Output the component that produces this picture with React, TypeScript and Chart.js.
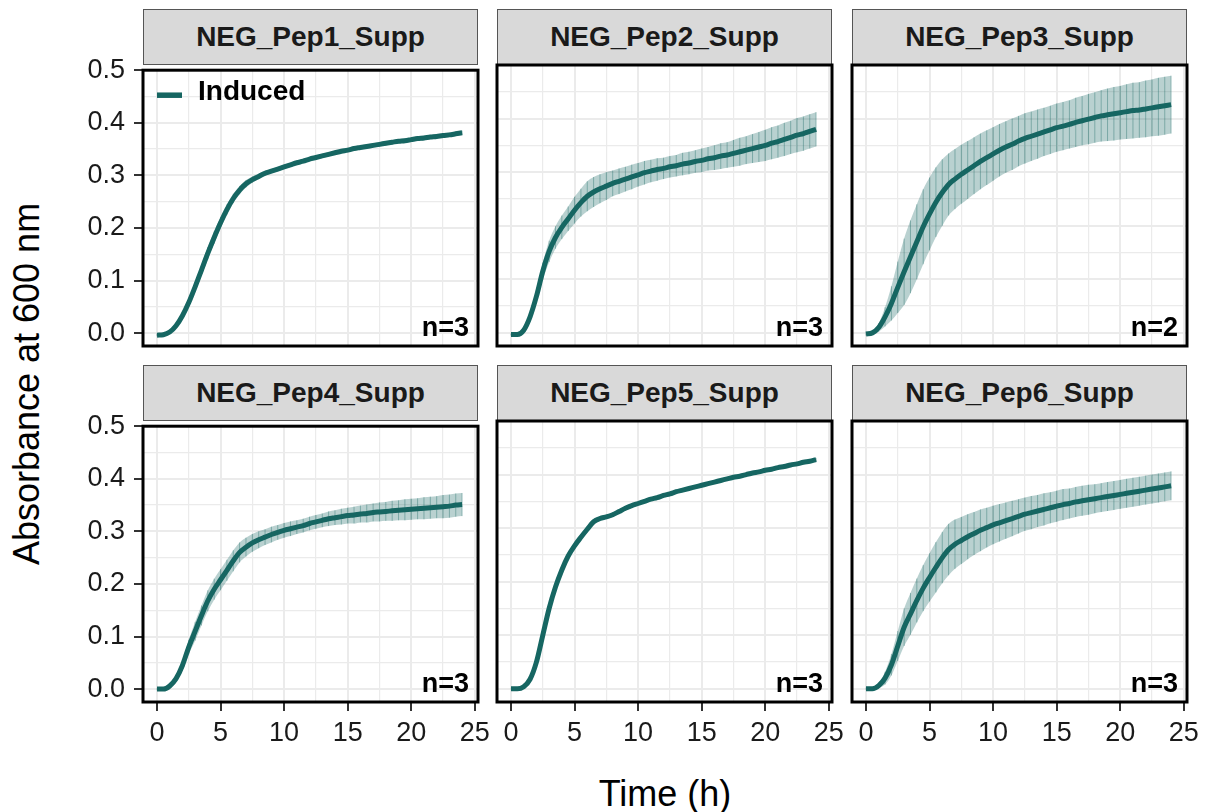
import React, { useEffect, useRef } from "react";
import { Chart, registerables } from "chart.js";

Chart.register(...registerables);
Chart.defaults.font.family = '"Liberation Sans", Arial, Helvetica, sans-serif';

// ---------------- DATA ----------------
const TIMES = [
  0, 0.5, 1, 1.5, 2, 2.5, 3, 3.5, 4, 4.5, 5, 5.5, 6, 6.5, 7, 7.5, 8, 8.5, 9, 9.5,
  10, 10.5, 11, 11.5, 12, 12.5, 13, 13.5, 14, 14.5, 15, 15.5, 16, 16.5, 17, 17.5,
  18, 18.5, 19, 19.5, 20, 20.5, 21, 21.5, 22, 22.5, 23, 23.5, 24,
];

const PANEL_TITLES = [
  "NEG_Pep1_Supp", "NEG_Pep2_Supp", "NEG_Pep3_Supp",
  "NEG_Pep4_Supp", "NEG_Pep5_Supp", "NEG_Pep6_Supp",
];
const PANEL_N = ["n=3", "n=3", "n=2", "n=3", "n=3", "n=3"];
const SERIES_LABEL = "Induced";
const X_TITLE = "Time (h)";
const Y_TITLE = "Absorbance at 600 nm";

const X_MAJOR = [0, 5, 10, 15, 20, 25];
const X_MINOR = [2.5, 7.5, 12.5, 17.5, 22.5];
const Y_MAJOR = [0, 0.1, 0.2, 0.3, 0.4, 0.5];
const Y_MINOR = [0.05, 0.15, 0.25, 0.35, 0.45];

const PEP1_MEAN = [
  -0.004, -0.003, 0.002, 0.014, 0.033, 0.058, 0.088, 0.12, 0.152, 0.182,
  0.21, 0.235, 0.256, 0.272, 0.284, 0.292, 0.298, 0.304, 0.308, 0.312,
  0.316, 0.32, 0.324, 0.327, 0.331, 0.334, 0.337, 0.34, 0.343, 0.346,
  0.348, 0.351, 0.353, 0.355, 0.357, 0.359, 0.361, 0.363, 0.365, 0.366,
  0.368, 0.37, 0.371, 0.373, 0.374, 0.376, 0.377, 0.379, 0.381,
];
const PEP1_SD = [
  0.002, 0.002, 0.002, 0.003, 0.005, 0.007, 0.009, 0.011, 0.012, 0.012,
  0.011, 0.01, 0.009, 0.008, 0.007, 0.006, 0.005, 0.005, 0.004, 0.004,
  0.004, 0.004, 0.004, 0.004, 0.004, 0.004, 0.004, 0.004, 0.004, 0.004,
  0.004, 0.004, 0.004, 0.004, 0.004, 0.004, 0.004, 0.004, 0.004, 0.004,
  0.004, 0.004, 0.004, 0.004, 0.004, 0.004, 0.004, 0.004, 0.004,
];

const PEP2_MEAN = [
  -0.003, -0.003, 0.005, 0.03, 0.068, 0.115, 0.152, 0.178, 0.197, 0.213,
  0.229, 0.243, 0.255, 0.263, 0.269, 0.274, 0.279, 0.283, 0.287, 0.291,
  0.295, 0.299, 0.302, 0.305, 0.307, 0.31, 0.312, 0.315, 0.317, 0.32,
  0.322, 0.325, 0.327, 0.33, 0.332, 0.335, 0.338, 0.341, 0.344, 0.347,
  0.35, 0.354, 0.357, 0.361, 0.365, 0.369, 0.372, 0.376, 0.38,
];
const PEP2_SD = [
  0.002, 0.003, 0.004, 0.007, 0.012, 0.016, 0.02, 0.021, 0.022, 0.023,
  0.025, 0.026, 0.028, 0.028, 0.027, 0.026, 0.024, 0.024, 0.023, 0.023,
  0.022, 0.022, 0.021, 0.021, 0.02, 0.02, 0.02, 0.021, 0.021, 0.021,
  0.022, 0.022, 0.023, 0.024, 0.024, 0.025, 0.026, 0.026, 0.027, 0.028,
  0.029, 0.03, 0.03, 0.031, 0.031, 0.032, 0.032, 0.032, 0.032,
];

const PEP3_MEAN = [
  -0.002, 0.0, 0.01, 0.03, 0.055, 0.085, 0.114, 0.142, 0.17, 0.198,
  0.222, 0.244, 0.262, 0.277, 0.287, 0.296, 0.304, 0.312, 0.32, 0.327,
  0.334, 0.341, 0.347, 0.352, 0.358, 0.363, 0.367, 0.371, 0.375, 0.379,
  0.383, 0.386, 0.389, 0.393, 0.396, 0.399, 0.402, 0.405, 0.407, 0.409,
  0.411, 0.413, 0.415, 0.416, 0.418, 0.42, 0.422, 0.424, 0.426,
];
const PEP3_SD = [
  0.003, 0.004, 0.008, 0.018, 0.032, 0.048, 0.062, 0.068, 0.07, 0.07,
  0.068, 0.065, 0.062, 0.058, 0.056, 0.055, 0.054, 0.053, 0.052, 0.051,
  0.05, 0.049, 0.048, 0.048, 0.047, 0.047, 0.046, 0.046, 0.045, 0.045,
  0.045, 0.045, 0.045, 0.046, 0.046, 0.047, 0.047, 0.048, 0.049, 0.05,
  0.05, 0.051, 0.052, 0.052, 0.053, 0.053, 0.054, 0.054, 0.054,
];

const PEP4_MEAN = [
  0.0, 0.0, 0.006, 0.02, 0.045, 0.08, 0.11, 0.14, 0.168, 0.19,
  0.208, 0.226, 0.244, 0.26, 0.27, 0.278, 0.284, 0.289, 0.294, 0.298,
  0.302, 0.305, 0.308, 0.311, 0.315, 0.318, 0.321, 0.324, 0.326, 0.328,
  0.33, 0.331, 0.333, 0.334, 0.336, 0.337, 0.338, 0.339, 0.34, 0.341,
  0.342, 0.343, 0.344, 0.345, 0.346, 0.347, 0.348, 0.35, 0.351,
];
const PEP4_SD = [
  0.002, 0.002, 0.003, 0.006, 0.01, 0.014, 0.018, 0.019, 0.02, 0.02,
  0.02, 0.02, 0.02, 0.019, 0.018, 0.017, 0.016, 0.015, 0.015, 0.014,
  0.014, 0.014, 0.013, 0.013, 0.013, 0.013, 0.013, 0.014, 0.014, 0.015,
  0.015, 0.016, 0.016, 0.017, 0.017, 0.018, 0.018, 0.019, 0.019, 0.02,
  0.02, 0.02, 0.021, 0.021, 0.021, 0.022, 0.022, 0.022, 0.022,
];

const PEP5_MEAN = [
  0.0, 0.0, 0.004, 0.018, 0.05, 0.1, 0.15, 0.19, 0.222, 0.248,
  0.267, 0.283, 0.298, 0.312, 0.318, 0.321, 0.325, 0.331, 0.337, 0.342,
  0.346, 0.35, 0.354, 0.357, 0.361, 0.364, 0.368, 0.371, 0.374, 0.377,
  0.38, 0.383, 0.386, 0.389, 0.392, 0.395, 0.397, 0.4, 0.403, 0.405,
  0.408, 0.41, 0.413, 0.415, 0.418, 0.42, 0.423, 0.425, 0.428,
];
const PEP5_SD = [
  0.001, 0.001, 0.002, 0.003, 0.004, 0.005, 0.005, 0.005, 0.005, 0.004,
  0.004, 0.004, 0.004, 0.004, 0.004, 0.004, 0.004, 0.004, 0.004, 0.004,
  0.003, 0.003, 0.003, 0.003, 0.003, 0.003, 0.003, 0.003, 0.003, 0.003,
  0.003, 0.003, 0.003, 0.003, 0.003, 0.003, 0.003, 0.003, 0.003, 0.003,
  0.003, 0.003, 0.003, 0.003, 0.003, 0.003, 0.003, 0.003, 0.003,
];

const PEP6_MEAN = [
  0.0, 0.0, 0.006, 0.02, 0.045, 0.08, 0.115, 0.14, 0.165, 0.188,
  0.208, 0.227, 0.245, 0.26, 0.27, 0.277, 0.284, 0.29, 0.296, 0.301,
  0.306, 0.31, 0.314, 0.318, 0.322, 0.326, 0.329, 0.332, 0.335, 0.338,
  0.341, 0.344, 0.346, 0.349, 0.351, 0.353, 0.355, 0.357, 0.359, 0.361,
  0.363, 0.365, 0.367, 0.369, 0.371, 0.373, 0.375, 0.377, 0.379,
];
const PEP6_SD = [
  0.002, 0.003, 0.005, 0.012, 0.02, 0.028, 0.035, 0.039, 0.041, 0.043,
  0.045, 0.047, 0.048, 0.048, 0.046, 0.044, 0.042, 0.04, 0.039, 0.037,
  0.036, 0.035, 0.034, 0.033, 0.032, 0.031, 0.031, 0.03, 0.03, 0.029,
  0.029, 0.029, 0.028, 0.028, 0.028, 0.028, 0.027, 0.027, 0.027, 0.027,
  0.027, 0.027, 0.027, 0.027, 0.027, 0.027, 0.027, 0.027, 0.027,
];

const MEANS = [PEP1_MEAN, PEP2_MEAN, PEP3_MEAN, PEP4_MEAN, PEP5_MEAN, PEP6_MEAN];
const SDS = [PEP1_SD, PEP2_SD, PEP3_SD, PEP4_SD, PEP5_SD, PEP6_SD];

// ---------------- STYLE / LAYOUT ----------------
const LINE_COLOR = "#166662";
const BAND_COLOR = "rgba(22,102,98,0.30)";
const ERR_COLOR = "rgba(22,102,98,0.38)";
const GRID_COLOR = "#EBEBEB";
const TEXT_COLOR = "#1A1A1A";

const COL_LEFT = [143, 497, 852];
const ROW_TOP = [65, 421];
const PANEL_W = 335;
const PANEL_H = 281;
const STRIP_H = 56;
const PAD_L = 70;
const PAD_T = 20;
const PAD_R = 24;
const PAD_B = 60;

const X_MIN = -1.1;
const X_MAX = 25.25;
const Y_MIN = -0.0245;
const Y_MAX = 0.5;

const isIn = (arr: number[], v: number) => arr.some((a) => Math.abs(a - v) < 1e-9);

export default function App() {
  const refs = useRef<(HTMLCanvasElement | null)[]>([]);

  useEffect(() => {
    const charts: Chart[] = [];
    for (let i = 0; i < 6; i++) {
      const canvas = refs.current[i];
      if (!canvas) continue;
      const r = Math.floor(i / 3);
      const c = i % 3;
      const showY = c === 0;
      const showX = r === 1;
      const mean = MEANS[i];
      const sd = SDS[i];
      const meanPts = TIMES.map((t, k) => ({ x: t, y: mean[k] }));
      const upPts = TIMES.map((t, k) => ({ x: t, y: mean[k] + sd[k] }));
      const loPts = TIMES.map((t, k) => ({ x: t, y: mean[k] - sd[k] }));

      const decor = {
        id: "decor" + i,
        beforeDatasetDraw(chart: any, args: any) {
          if (args.index !== 0) return;
          const { ctx, chartArea } = chart;
          const xs = chart.scales.x;
          const ys = chart.scales.y;
          ctx.save();
          ctx.beginPath();
          ctx.rect(chartArea.left, chartArea.top, chartArea.right - chartArea.left, chartArea.bottom - chartArea.top);
          ctx.clip();
          ctx.strokeStyle = ERR_COLOR;
          ctx.lineWidth = 1;
          ctx.beginPath();
          for (let k = 0; k < TIMES.length; k++) {
            const x = xs.getPixelForValue(TIMES[k]);
            ctx.moveTo(x, ys.getPixelForValue(mean[k] - sd[k]));
            ctx.lineTo(x, ys.getPixelForValue(mean[k] + sd[k]));
          }
          ctx.stroke();
          ctx.restore();
        },
        afterDraw(chart: any) {
          const { ctx, chartArea } = chart;
          const { left, top, right, bottom } = chartArea;
          ctx.save();
          ctx.strokeStyle = "#000";
          ctx.lineWidth = 3;
          ctx.strokeRect(left, top, right - left, bottom - top);
          ctx.fillStyle = "#000";
          ctx.font = 'bold 27px "Liberation Sans", Arial, sans-serif';
          ctx.textAlign = "right";
          ctx.textBaseline = "alphabetic";
          ctx.fillText(PANEL_N[i], right - 9, bottom - 10);
          if (i === 0) {
            ctx.strokeStyle = LINE_COLOR;
            ctx.lineWidth = 5.5;
            ctx.beginPath();
            ctx.moveTo(left + 14, top + 25);
            ctx.lineTo(left + 39, top + 25);
            ctx.stroke();
            ctx.fillStyle = "#000";
            ctx.textAlign = "left";
            ctx.font = 'bold 28px "Liberation Sans", Arial, sans-serif';
            ctx.fillText(SERIES_LABEL, left + 55, top + 30);
          }
          ctx.restore();
        },
      };

      const chart = new Chart(canvas, {
        type: "line",
        data: {
          datasets: [
            {
              label: SERIES_LABEL,
              data: meanPts,
              borderColor: LINE_COLOR,
              borderWidth: 5,
              pointRadius: 0,
              cubicInterpolationMode: "monotone",
              fill: false,
            },
            {
              label: "upper",
              data: upPts,
              borderWidth: 0,
              borderColor: "rgba(0,0,0,0)",
              backgroundColor: BAND_COLOR,
              pointRadius: 0,
              cubicInterpolationMode: "monotone",
              fill: "+1",
            },
            {
              label: "lower",
              data: loPts,
              borderWidth: 0,
              borderColor: "rgba(0,0,0,0)",
              pointRadius: 0,
              cubicInterpolationMode: "monotone",
              fill: false,
            },
          ],
        },
        options: {
          responsive: false,
          animation: false,
          devicePixelRatio: 1,
          events: [],
          layout: { padding: { left: 0, top: PAD_T, right: PAD_R, bottom: 0 } },
          plugins: {
            legend: { display: false },
            tooltip: { enabled: false },
          },
          scales: {
            x: {
              type: "linear",
              min: X_MIN,
              max: X_MAX,
              afterBuildTicks: (s: any) => {
                s.ticks = [...X_MAJOR, ...X_MINOR].sort((a, b) => a - b).map((v) => ({ value: v }));
              },
              afterFit: (s: any) => {
                s.height = PAD_B;
              },
              border: { display: false },
              grid: {
                color: GRID_COLOR,
                lineWidth: (ctx: any) => (isIn(X_MAJOR, ctx.tick?.value) ? 2 : 1.2),
                drawTicks: showX,
                tickLength: 9,
                tickWidth: 2,
                tickColor: (ctx: any) => (isIn(X_MAJOR, ctx.tick?.value) ? "#333333" : "rgba(0,0,0,0)"),
              },
              ticks: {
                display: showX,
                autoSkip: false,
                maxRotation: 0,
                padding: 6,
                color: TEXT_COLOR,
                font: { size: 27 },
                callback: (v: any) => (isIn(X_MAJOR, Number(v)) ? String(v) : ""),
              },
            },
            y: {
              type: "linear",
              min: Y_MIN,
              max: Y_MAX,
              afterBuildTicks: (s: any) => {
                s.ticks = [...Y_MAJOR, ...Y_MINOR].sort((a, b) => a - b).map((v) => ({ value: v }));
              },
              afterFit: (s: any) => {
                s.width = PAD_L;
              },
              border: { display: false },
              grid: {
                color: GRID_COLOR,
                lineWidth: (ctx: any) => (isIn(Y_MAJOR, ctx.tick?.value) ? 2 : 1.2),
                drawTicks: showY,
                tickLength: 9,
                tickWidth: 2,
                tickColor: (ctx: any) => (isIn(Y_MAJOR, ctx.tick?.value) ? "#333333" : "rgba(0,0,0,0)"),
              },
              ticks: {
                display: showY,
                autoSkip: false,
                padding: 9,
                color: TEXT_COLOR,
                font: { size: 27 },
                callback: (v: any) => (isIn(Y_MAJOR, Number(v)) ? Number(v).toFixed(1) : ""),
              },
            },
          },
        } as any,
        plugins: [decor],
      });
      charts.push(chart);
    }
    return () => charts.forEach((ch) => ch.destroy());
  }, []);

  const font = '"Liberation Sans", Arial, Helvetica, sans-serif';

  return (
    <div
      style={{
        position: "absolute",
        left: 0,
        top: 0,
        width: 1207,
        height: 812,
        overflow: "hidden",
        background: "#fff",
        fontFamily: font,
      }}
    >
      {PANEL_TITLES.map((title, i) => {
        const r = Math.floor(i / 3);
        const c = i % 3;
        return (
          <div
            key={"strip" + i}
            style={{
              position: "absolute",
              left: COL_LEFT[c],
              top: ROW_TOP[r] - STRIP_H,
              width: PANEL_W,
              height: STRIP_H,
              boxSizing: "border-box",
              background: "#D9D9D9",
              border: "1px solid #555555",
              display: "flex",
              alignItems: "center",
              justifyContent: "center",
              fontWeight: "bold",
              fontSize: 28,
              color: TEXT_COLOR,
              lineHeight: 1,
            }}
          >
            {title}
          </div>
        );
      })}
      {PANEL_TITLES.map((_, i) => {
        const r = Math.floor(i / 3);
        const c = i % 3;
        return (
          <canvas
            key={"cv" + i}
            ref={(el) => {
              refs.current[i] = el;
            }}
            width={PAD_L + PANEL_W + PAD_R}
            height={PAD_T + PANEL_H + PAD_B}
            style={{
              position: "absolute",
              left: COL_LEFT[c] - PAD_L,
              top: ROW_TOP[r] - PAD_T,
              width: PAD_L + PANEL_W + PAD_R,
              height: PAD_T + PANEL_H + PAD_B,
            }}
          />
        );
      })}
      <div
        style={{
          position: "absolute",
          left: 27,
          top: 384,
          transform: "translate(-50%, -50%) rotate(-90deg)",
          whiteSpace: "nowrap",
          fontSize: 36,
          lineHeight: 1,
          color: "#000",
        }}
      >
        {Y_TITLE}
      </div>
      <div
        style={{
          position: "absolute",
          left: 665,
          top: 794,
          transform: "translate(-50%, -50%)",
          whiteSpace: "nowrap",
          fontSize: 36,
          lineHeight: 1,
          color: "#000",
        }}
      >
        {X_TITLE}
      </div>
    </div>
  );
}
